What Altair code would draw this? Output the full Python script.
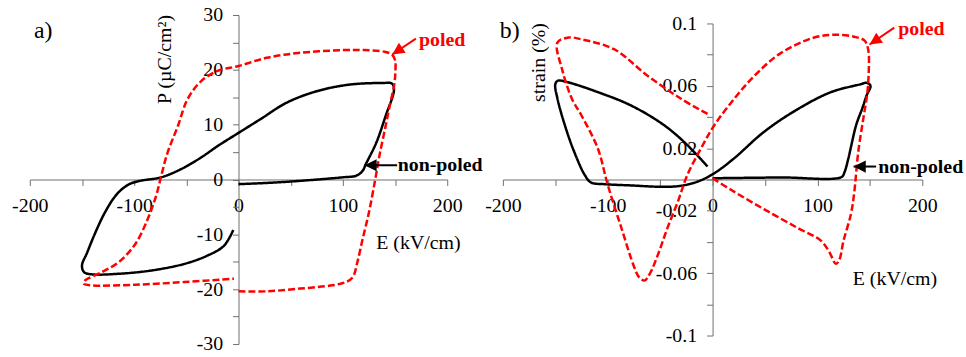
import altair as alt
import pandas as pd

FONT = "Liberation Serif"

# ---- panel a: polarisation P (uC/cm2) vs field E (kV/cm) ----
A_NONPOLED_E = [0, 30, 59, 100, 113, 119, 122, 132, 141, 149, 147, 138, 106, 75, 46, 21, 0,
                -20, -36, -55, -74, -93, -103, -110, -118, -128, -137, -145, -150, -148,
                -140.5, -115, -83.5, -52, -30, -14, -5]
A_NONPOLED_P = [-0.85, -0.6, -0.25, 0.4, 0.7, 1.6, 2.8, 6.7, 11.6, 16.4, 17.5, 17.6, 17.3, 16.1,
                14, 11, 8.5, 6.1, 4.0, 1.9, 0.4, -0.2, -0.7, -1.5, -3, -6, -9.6, -13.3, -15.7,
                -16.9, -17.3, -17.2, -16.6, -15.4, -13.9, -12.1, -9.2]

A_POLED_E = [0, 27, 59, 90, 103, 109.5, 114, 119, 125, 131, 135, 141, 145.5, 149, 150.3, 150,
             147, 140, 120, 100, 59, 27, 0, -20, -36, -49, -58, -68, -74, -79, -87, -99, -115,
             -131, -147, -148.4, -140.5, -99, -52, -4.4]
A_POLED_P = [-20.4, -20.4, -19.9, -19.3, -18.7, -17.8, -15, -10.8, -6, 0, 4.3, 9.8, 14, 17, 19.5,
             21.8, 22.8, 23.3, 23.6, 23.6, 23.1, 22.2, 20.7, 19.8, 17.9, 14.6, 9.8, 4.9, 0.7, -3,
             -7.2, -11.8, -15.1, -16.9, -18.4, -19, -19.3, -19.2, -18.7, -18.1]

# ---- panel b: strain (%) vs field E (kV/cm) ----
B_NONPOLED_E = [0, 65, 123, 126, 129.5, 137, 143, 147, 150.6, 147, 141, 113, 81, 49, 20.6, 1.6,
                -14, -30, -46, -78, -103, -116, -122, -132, -141, -148, -150, -147.6, -138,
                -109.5, -78, -46, -24, -4.8]
B_NONPOLED_S = [0.0008, 0.0013, 0.0016, 0.005, 0.0135, 0.035, 0.046, 0.054, 0.060, 0.062, 0.061,
                0.056, 0.045, 0.0305, 0.0136, 0.004, -0.0013, -0.004, -0.0047, -0.0038, -0.003,
                -0.0019, 0.003, 0.0178, 0.035, 0.052, 0.061, 0.0633, 0.0623, 0.056, 0.0475,
                0.0347, 0.022, 0.0083]

B_POLED_E = [0, 17.5, 49, 81, 103, 111, 117.5, 120.6, 125, 132, 135, 139, 144, 147.5, 149, 148.5,
             145, 135, 118, 97, 65, 40, 20.6, 1.6, -11, -24, -33, -43, -52, -60, -65, -70, -74.6,
             -87, -100, -109.5, -125, -134, -143.5, -148, -137, -125, -94, -62, -30, -4.8]
B_POLED_S = [0.0008, -0.0066, -0.019, -0.031, -0.039, -0.046, -0.054, -0.052, -0.039, -0.022,
             -0.009, 0.018, 0.040, 0.055, 0.070, 0.083, 0.089, 0.0915, 0.0928, 0.091, 0.081,
             0.0665, 0.0517, 0.0347, 0.02, 0.003, -0.014, -0.031, -0.048, -0.0606, -0.0648,
             -0.0627, -0.0564, -0.031, -0.0034, 0.02, 0.041, 0.0515, 0.0706, 0.0877, 0.091,
             0.0898, 0.0835, 0.0665, 0.0517, 0.042]

SERIES = ["non-poled", "poled"]
COLORS = ["#000000", "#ff0000"]
DASHES = [[1, 0], [7, 3]]

E_TICKS = [-200, -150, -100, -50, 0, 50, 100, 150, 200]
P_TICKS = [-30, -25, -20, -15, -10, -5, 0, 5, 10, 15, 20, 25, 30]
S_TICKS = [-0.1, -0.08, -0.06, -0.04, -0.02, 0, 0.02, 0.04, 0.06, 0.08, 0.1]

# arrow annotations: (series, E start, value start, E tip, value tip, head angle)
A_ARROWS = [("poled", 170, 25.7, 147.3, 22.8, 236), ("non-poled", 152, 2.6, 120.7, 2.6, 270)]
B_ARROWS = [("poled", 173.3, 0.0973, 149.7, 0.0865, 236), ("non-poled", 156, 0.0083, 134.5, 0.0083, 270)]

# text labels: (text, E, value, size, weight, colour, angle, align)
A_TEXTS = [("a)", -196, 27.1, 24, "normal", "#000000", 0, "left"),
           ("P (µC/cm²)", -70.3, 21.9, 20, "normal", "#000000", 270, "center"),
           ("E (kV/cm)", 132, -11.6, 20, "normal", "#000000", 0, "left"),
           ("poled", 173, 25.5, 20, "bold", "#ff0000", 0, "left"),
           ("non-poled", 152.5, 2.6, 20, "bold", "#000000", 0, "left")]
B_TEXTS = [("b)", -203, 0.0954, 24, "normal", "#000000", 0, "left"),
           ("strain (%)", -165.2, 0.075, 20, "normal", "#000000", 270, "center"),
           ("E (kV/cm)", 133.7, -0.0636, 20, "normal", "#000000", 0, "left"),
           ("poled", 177, 0.0966, 20, "bold", "#ff0000", 0, "left"),
           ("non-poled", 158, 0.0083, 20, "bold", "#000000", 0, "left")]

HEAD_PATH = "M0,0L-1,2L1,2Z"
X_LABELS = "datum.value % 100 == 0 ? (datum.value < 0 ? '-' : '') + abs(datum.value) : ''"


def panel(e_np, v_np, e_po, v_po, arrows, texts, y_ticks, y_label_expr, y_domain, w, h):
    rows = []
    for name, es, vs in (("non-poled", e_np, v_np), ("poled", e_po, v_po)):
        for i, (e, v) in enumerate(zip(es, vs)):
            rows.append({"E": e, "V": v, "series": name, "idx": i})
    df = pd.DataFrame(rows)

    x_scale = alt.Scale(domain=[-200, 200], nice=False, zero=False)
    y_scale = alt.Scale(domain=y_domain, nice=False, zero=False)
    x_axis = alt.Axis(values=E_TICKS, offset=-h / 2, labelExpr=X_LABELS, title=None)
    y_axis = alt.Axis(values=y_ticks, offset=-w / 2, labelExpr=y_label_expr, title=None)
    color = alt.Color("series:N", scale=alt.Scale(domain=SERIES, range=COLORS), legend=None)

    lines = alt.Chart(df).mark_line(strokeWidth=2.5, interpolate="catmull-rom").encode(
        x=alt.X("E:Q", scale=x_scale, axis=x_axis),
        y=alt.Y("V:Q", scale=y_scale, axis=y_axis),
        color=color,
        strokeDash=alt.StrokeDash("series:N", scale=alt.Scale(domain=SERIES, range=DASHES), legend=None),
        order="idx:Q",
    )

    adf = pd.DataFrame(arrows, columns=["series", "E0", "V0", "E1", "V1", "ang"])
    shafts = alt.Chart(adf).mark_rule(strokeWidth=2).encode(
        x=alt.X("E0:Q", scale=x_scale, axis=x_axis), y=alt.Y("V0:Q", scale=y_scale, axis=y_axis),
        x2="E1:Q", y2="V1:Q", color=color)
    heads = alt.Chart(adf).mark_point(shape=HEAD_PATH, filled=True, size=150, opacity=1).encode(
        x=alt.X("E1:Q", scale=x_scale, axis=x_axis), y=alt.Y("V1:Q", scale=y_scale, axis=y_axis),
        angle=alt.Angle("ang:Q", scale=None), color=color)

    layers = [lines, shafts, heads]
    for txt, e, v, size, weight, col, ang, align in texts:
        tdf = pd.DataFrame({"E": [e], "V": [v], "label": [txt]})
        layers.append(alt.Chart(tdf).mark_text(
            font=FONT, fontSize=size, fontWeight=weight, color=col, angle=ang,
            align=align, baseline="middle").encode(
            x=alt.X("E:Q", scale=x_scale, axis=x_axis), y=alt.Y("V:Q", scale=y_scale, axis=y_axis),
            text="label:N"))

    return alt.layer(*layers).properties(width=w, height=h)


panel_a = panel(A_NONPOLED_E, A_NONPOLED_P, A_POLED_E, A_POLED_P, A_ARROWS, A_TEXTS, P_TICKS,
                "datum.value % 10 == 0 ? (datum.value < 0 ? '-' : '') + abs(datum.value) : ''",
                [-30, 30], 420, 331)
panel_b = panel(B_NONPOLED_E, B_NONPOLED_S, B_POLED_E, B_POLED_S, B_ARROWS, B_TEXTS, S_TICKS,
                "abs(round(datum.value * 100)) % 4 == 2 ? (datum.value < 0 ? '-' : '') + format(abs(datum.value), '~g') : ''",
                [-0.1, 0.1], 422, 314)

chart = alt.hconcat(panel_a, panel_b, spacing=56, bounds="flush", center=True).properties(
    padding={"left": 11, "top": 4, "right": 2, "bottom": 2}
).configure_view(stroke=None).configure_axis(
    grid=False, tickSize=6, domainColor="#707070", tickColor="#707070", domainWidth=1,
    tickWidth=1, labelFont=FONT, labelFontSize=20, labelColor="#000000", labelFlush=False,
    labelOverlap=False, labelPadding=10
)

chart.save("out.html", embed_options={"renderer": "svg", "actions": False})
